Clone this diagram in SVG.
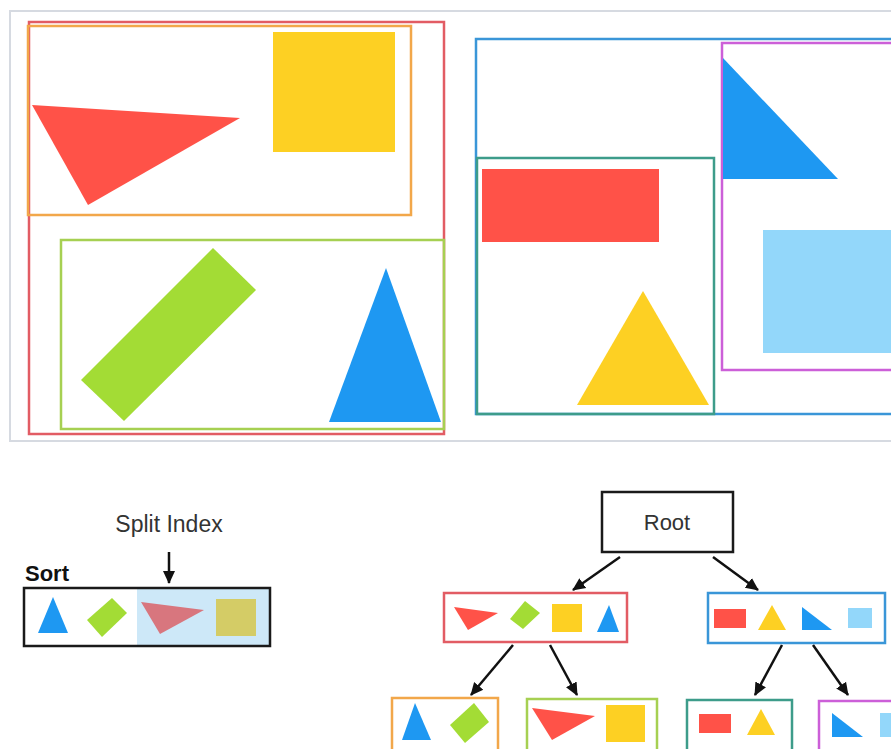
<svg xmlns="http://www.w3.org/2000/svg" width="891" height="749" viewBox="0 0 891 749">
<style>
.box{fill:none;stroke-width:2.5}
.r{stroke:#e25c64}.o{stroke:#f2a74a}.g{stroke:#a6d052}.b{stroke:#3a96d8}.t{stroke:#3d9c8a}.p{stroke:#cc5fd8}.k{stroke:#1a1a1a}
.fr{fill:#ff5248}.fy{fill:#fdd023}.fg{fill:#a3dc35}.fb{fill:#1e98f2}.fl{fill:#93d7fa}
.lbl{font-family:"Liberation Sans",Arial,sans-serif;fill:#333}
.conn line{stroke:#111;stroke-width:2.5;marker-end:url(#ah)}
</style>
<defs>
<marker id="ah" markerUnits="userSpaceOnUse" markerWidth="14" markerHeight="14" viewBox="0 0 14 14" refX="12" refY="7" orient="auto">
<path d="M0,1 L13,7 L0,13 z" fill="#111"/>
</marker>
</defs>
<rect width="891" height="749" fill="#fff"/>

<g id="scene">
<rect x="10" y="11" width="900" height="430" fill="none" stroke="#d6dae1" stroke-width="2"/>
<rect class="box r" x="29" y="22" width="415" height="412"/>
<rect class="box o" x="28" y="26" width="383" height="189" stroke-width="3"/>
<rect class="fy" x="273" y="32" width="122" height="120"/>
<polygon class="fr" points="32,105 240,118 88,205"/>
<rect class="box g" x="61" y="240" width="383" height="189"/>
<polygon class="fg" points="213,248 256,290 124,421 81,380"/>
<polygon class="fb" points="386,268 441,422 329,422"/>
<rect class="box b" x="476" y="39" width="430" height="375"/>
<rect class="box t" x="477" y="158" width="237" height="256"/>
<rect class="fr" x="482" y="169" width="177" height="73"/>
<polygon class="fy" points="643,291 709,405 577,405"/>
<rect class="box p" x="722" y="43" width="200" height="327"/>
<polygon class="fb" points="723,58 723,179 838,179"/>
<rect class="fl" x="763" y="230" width="150" height="123"/>
</g>

<g id="sort">
<text class="lbl" x="169" y="532" font-size="23" text-anchor="middle">Split Index</text>
<text class="lbl" x="25" y="581" font-size="22" font-weight="bold" style="fill:#111">Sort</text>
<rect x="137" y="589" width="132" height="56" fill="#cde8f8"/>
<rect class="box k" x="24" y="588" width="246" height="58" stroke-width="3"/>
<polygon class="fb" points="53,597 68,633 38,633"/>
<polygon class="fg" points="112,598 127,613 102,637 87,620"/>
<polygon points="141,602 204,610 160,634" fill="#d8767e"/>
<rect x="216" y="599" width="40" height="37" fill="#d4cc66"/>
</g>

<g id="root">
<rect class="box k" x="602" y="492" width="131" height="60"/>
<text class="lbl" x="667" y="530" font-size="22" text-anchor="middle">Root</text>
</g>

<g id="n-left">
<rect class="box r" x="444" y="593" width="183" height="49"/>
<polygon class="fr" points="454,607 498,613 468,630"/>
<polygon class="fg" points="525,601 540,613 523,629 510,619"/>
<rect class="fy" x="552" y="604" width="30" height="28"/>
<polygon class="fb" points="609,605 619,632 597,632"/>
</g>

<g id="n-right">
<rect class="box b" x="708" y="593" width="177" height="50"/>
<rect class="fr" x="714" y="609" width="32" height="19"/>
<polygon class="fy" points="772,605 786,630 758,630"/>
<polygon class="fb" points="802,607 802,630 832,630"/>
<rect class="fl" x="848" y="608" width="24" height="20"/>
</g>

<g id="n-ll">
<rect class="box o" x="392" y="698" width="106" height="56"/>
<polygon class="fb" points="415,703 431,740 402,740"/>
<polygon class="fg" points="474,703 489,722 465,743 450,725"/>
</g>

<g id="n-lr">
<rect class="box g" x="527" y="699" width="130" height="55"/>
<polygon class="fr" points="532,708 595,716 552,740"/>
<rect class="fy" x="606" y="705" width="39" height="37"/>
</g>

<g id="n-rl">
<rect class="box t" x="687" y="700" width="105" height="54"/>
<rect class="fr" x="699" y="714" width="32" height="19"/>
<polygon class="fy" points="761,709 775,735 747,735"/>
</g>

<g id="n-rr">
<rect class="box p" x="819" y="701" width="100" height="54"/>
<polygon class="fb" points="832,713 832,737 863,737"/>
<rect class="fl" x="880" y="713" width="30" height="24"/>
</g>

<g id="connectors" class="conn">
<line x1="169" y1="552" x2="169" y2="583"/>
<line x1="620" y1="557" x2="573" y2="590"/>
<line x1="713" y1="557" x2="758" y2="590"/>
<line x1="513" y1="645" x2="471" y2="695"/>
<line x1="550" y1="645" x2="577" y2="695"/>
<line x1="782" y1="645" x2="755" y2="695"/>
<line x1="813" y1="645" x2="848" y2="695"/>
</g>
</svg>
